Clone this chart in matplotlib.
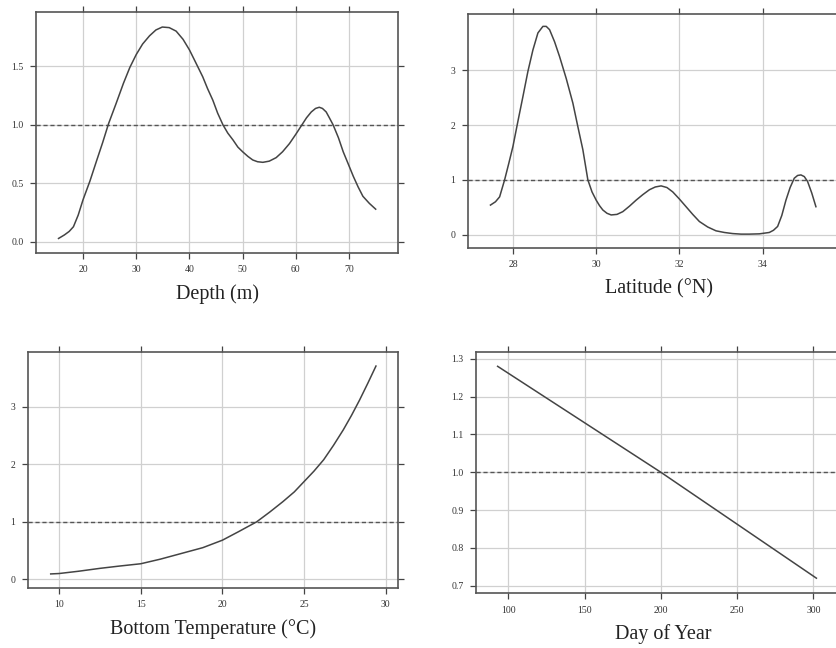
import matplotlib.pyplot as plt
import numpy as np

plt.rcParams['font.family'] = ['Liberation Serif', 'DejaVu Serif']

# panel 1: depth
depth = [15.4, 16.5, 17.4, 18.2, 19.1, 20.0, 21.3, 22.6, 23.7, 24.8, 26.2, 27.6, 28.8,
         30.0, 31.2, 32.5, 33.7, 34.9, 36.2, 37.5, 38.8, 40.0, 41.2, 42.5, 43.4, 44.4,
         45.3, 46.3, 47.2, 48.2, 49.1, 50.0, 51.0, 51.9, 52.8, 53.8, 55.0, 56.3, 57.5,
         58.8, 60.0, 61.0, 62.0, 62.9, 63.7, 64.4, 65.0, 65.7, 66.3, 67.0, 68.0, 68.9,
         69.9, 70.8, 71.7, 72.6, 73.8, 75.0]
depth_val = [0.03, 0.06, 0.09, 0.13, 0.23, 0.36, 0.52, 0.70, 0.85, 1.01, 1.18, 1.355,
             1.49, 1.60, 1.69, 1.76, 1.81, 1.835, 1.83, 1.80, 1.73, 1.64, 1.53, 1.41,
             1.31, 1.21, 1.10, 1.00, 0.93, 0.87, 0.81, 0.77, 0.73, 0.70, 0.685, 0.68,
             0.69, 0.72, 0.77, 0.84, 0.92, 0.99, 1.06, 1.11, 1.14, 1.15, 1.14, 1.11,
             1.06, 1.00, 0.89, 0.77, 0.66, 0.56, 0.47, 0.39, 0.33, 0.28]

# panel 2: latitude
lat = [27.46, 27.58, 27.68, 27.8, 27.9, 28.0, 28.12, 28.24, 28.36, 28.48, 28.6, 28.72,
       28.8, 28.88, 29.0, 29.12, 29.28, 29.44, 29.56, 29.68, 29.8, 29.9, 30.0, 30.08,
       30.16, 30.26, 30.36, 30.5, 30.64, 30.8, 30.96, 31.12, 31.28, 31.42, 31.56, 31.7,
       31.84, 32.0, 32.16, 32.32, 32.48, 32.68, 32.88, 33.08, 33.28, 33.48, 33.68,
       33.92, 34.16, 34.26, 34.36, 34.46, 34.56, 34.66, 34.76, 34.84, 34.92, 35.0,
       35.08, 35.18, 35.28]
lat_val = [0.54, 0.6, 0.69, 1.0, 1.3, 1.61, 2.07, 2.52, 2.98, 3.37, 3.68, 3.80, 3.80,
           3.74, 3.52, 3.25, 2.85, 2.40, 1.97, 1.55, 1.0, 0.78, 0.63, 0.53, 0.45, 0.39,
           0.36, 0.37, 0.42, 0.52, 0.63, 0.73, 0.82, 0.87, 0.89, 0.86, 0.78, 0.65, 0.51,
           0.37, 0.24, 0.14, 0.07, 0.04, 0.02, 0.01, 0.01, 0.015, 0.04, 0.08, 0.15,
           0.35, 0.63, 0.86, 1.03, 1.08, 1.09, 1.06, 0.97, 0.76, 0.51]

# panel 3: bottom temperature
temp = [9.49, 10.0, 11.2, 12.5, 13.7, 15.0, 16.2, 17.5, 18.8, 20.0, 21.0, 22.1, 22.9,
        23.7, 24.4, 25.0, 25.6, 26.2, 26.8, 27.4, 27.9, 28.4, 28.9, 29.4]
temp_val = [0.093, 0.10, 0.14, 0.19, 0.23, 0.27, 0.35, 0.45, 0.55, 0.68, 0.83, 1.0,
            1.17, 1.35, 1.52, 1.70, 1.88, 2.08, 2.33, 2.60, 2.85, 3.12, 3.41, 3.71]

# panel 4: day of year
doy = [93, 200, 302]
doy_val = [1.28, 1.0, 0.72]

panels = [
    dict(x=depth, y=depth_val, label='Depth (m)', pos=[0.0431, 0.6096, 0.433, 0.372],
         xlim=(11.17, 79.2), ylim=(-0.094, 1.964), xt=[20, 30, 40, 50, 60, 70],
         yt=[0.0, 0.5, 1.0, 1.5], fmt='{:.1f}'),
    dict(x=lat, y=lat_val, label='Latitude (°N)', pos=[0.5598, 0.6173, 0.457, 0.3606],
         xlim=(26.92, 36.1), ylim=(-0.243, 4.02), xt=[28, 30, 32, 34],
         yt=[0, 1, 2, 3], fmt='{:d}'),
    dict(x=temp, y=temp_val, label='Bottom Temperature (°C)',
         pos=[0.0331, 0.0931, 0.4426, 0.3633],
         xlim=(8.08, 30.73), ylim=(-0.146, 3.95), xt=[10, 15, 20, 25, 30],
         yt=[0, 1, 2, 3], fmt='{:d}'),
    dict(x=doy, y=doy_val, label='Day of Year', pos=[0.5697, 0.0844, 0.447, 0.3719],
         xlim=(79, 324), ylim=(0.68, 1.317), xt=[100, 150, 200, 250, 300],
         yt=[0.7, 0.8, 0.9, 1.0, 1.1, 1.2, 1.3], fmt='{:.1f}'),
]

fig = plt.figure(figsize=(8.36, 6.48), dpi=100)

for p in panels:
    ax = fig.add_axes(p['pos'])
    ax.grid(True, color='#d0d0d0', lw=0.9)
    ax.set_axisbelow(True)
    ax.axhline(1.0, color='#555555', ls=(0, (3, 2)), lw=1.0)
    ax.plot(p['x'], p['y'], color='#444444', lw=1.1)
    ax.set_xlim(p['xlim'])
    ax.set_ylim(p['ylim'])
    ax.set_xticks(p['xt'])
    ax.set_yticks(p['yt'])
    ax.set_yticklabels([p['fmt'].format(v) for v in p['yt']])
    ax.tick_params(direction='out', length=4, width=0.9, color='#444444',
                   labelsize=7, labelcolor='#333333', top=True, right=True, pad=5)
    for s in ax.spines.values():
        s.set_color('#555555')
        s.set_linewidth(1.2)
    ax.set_xlabel(p['label'], fontsize=14.5, color='#222222', labelpad=7)

fig.savefig('out.png', dpi=100)
